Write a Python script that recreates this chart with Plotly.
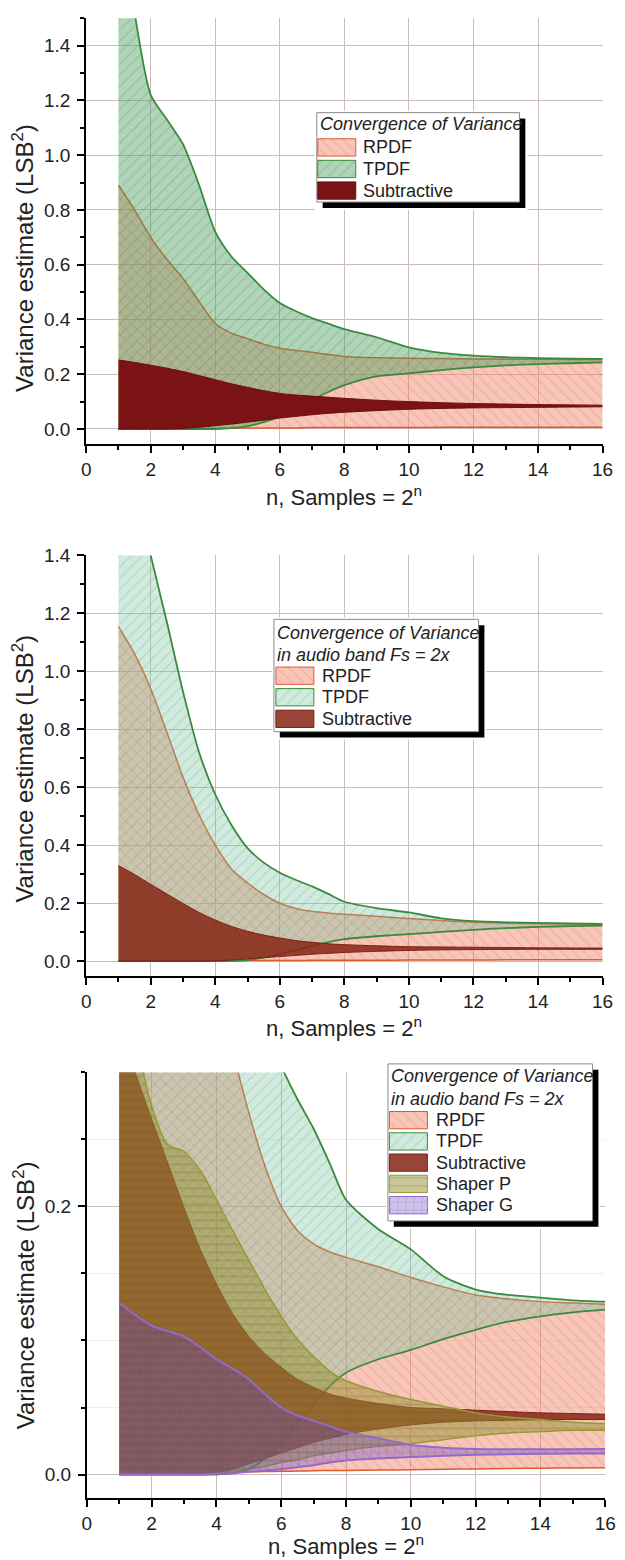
import plotly.graph_objects as go

FONT = "Liberation Sans, Arial, sans-serif"
W, H = 625, 1560

# sample exponent n (Samples = 2^n)
n_pts = [1, 1.5, 2, 2.5, 3, 3.5, 4, 4.5, 5, 5.5, 6, 6.5, 7, 7.5, 8,
         9, 10, 11, 12, 13, 14, 15, 16]

# ---- full band: variance envelopes (upper / lower) ----
p1_rpdf_hi = [0.89, 0.80, 0.70, 0.62, 0.55, 0.465, 0.385, 0.35, 0.33, 0.31, 0.295, 0.287,
              0.28, 0.272, 0.265, 0.26, 0.258, 0.257, 0.256, 0.255, 0.255, 0.254, 0.254]
p1_rpdf_lo = [0.0, 0.001, 0.001, 0.002, 0.002, 0.003, 0.003, 0.003, 0.004, 0.004, 0.004, 0.004,
              0.005, 0.005, 0.005, 0.005, 0.005, 0.006, 0.006, 0.006, 0.006, 0.006, 0.006]
p1_tpdf_hi = [1.95, 1.52, 1.22, 1.13, 1.04, 0.89, 0.72, 0.63, 0.57, 0.51, 0.46, 0.43,
              0.405, 0.385, 0.365, 0.335, 0.298, 0.278, 0.268, 0.262, 0.259, 0.257, 0.256]
p1_tpdf_lo = [0, 0, 0, 0, 0, 0, 0, 0.003, 0.01, 0.025, 0.045, 0.075,
              0.105, 0.135, 0.16, 0.192, 0.203, 0.215, 0.225, 0.232, 0.237, 0.24, 0.243]
p1_sub_hi = [0.252, 0.243, 0.233, 0.222, 0.21, 0.195, 0.18, 0.165, 0.152, 0.14, 0.13, 0.124,
             0.12, 0.116, 0.112, 0.105, 0.1, 0.096, 0.093, 0.091, 0.089, 0.088, 0.087]
p1_sub_lo = [0, 0, 0, 0, 0.002, 0.006, 0.012, 0.018, 0.025, 0.032, 0.04, 0.046,
             0.052, 0.057, 0.061, 0.067, 0.072, 0.075, 0.077, 0.078, 0.079, 0.08, 0.081]

# ---- audio band, Fs = 2x ----
ab_rpdf_hi = [1.155, 1.06, 0.94, 0.79, 0.635, 0.505, 0.40, 0.318, 0.27, 0.23, 0.2, 0.182,
              0.172, 0.166, 0.162, 0.155, 0.147, 0.14, 0.134, 0.131, 0.129, 0.128, 0.127]
ab_rpdf_lo = [0.0, 0.0003, 0.0005, 0.0007, 0.001, 0.0012, 0.0015, 0.0017, 0.002, 0.0022, 0.0024,
              0.0026, 0.0028, 0.003, 0.003, 0.0033, 0.0036, 0.004, 0.0042, 0.0045, 0.0047, 0.0049, 0.005]
ab_tpdf_hi = [1.9, 1.65, 1.40, 1.17, 0.93, 0.72, 0.575, 0.47, 0.39, 0.34, 0.305, 0.28,
              0.258, 0.232, 0.205, 0.183, 0.168, 0.148, 0.138, 0.134, 0.132, 0.13, 0.129]
ab_tpdf_lo = [0, 0, 0, 0, 0, 0, 0, 0.001, 0.004, 0.012, 0.024, 0.038,
              0.052, 0.066, 0.076, 0.086, 0.093, 0.101, 0.108, 0.114, 0.118, 0.121, 0.123]
ab_sub_hi = [0.33, 0.299, 0.265, 0.232, 0.199, 0.168, 0.142, 0.12, 0.103, 0.09, 0.08, 0.071,
             0.065, 0.06, 0.057, 0.053, 0.05, 0.049, 0.048, 0.047, 0.046, 0.0455, 0.045]
ab_sub_lo = [0, 0, 0, 0, 0, 0, 0.001, 0.004, 0.008, 0.012, 0.016, 0.02,
             0.024, 0.027, 0.03, 0.034, 0.037, 0.039, 0.040, 0.0405, 0.041, 0.041, 0.041]
ab_shp_hi = [0.45, 0.33, 0.275, 0.246, 0.241, 0.227, 0.205, 0.182, 0.16, 0.138, 0.118, 0.101,
             0.088, 0.077, 0.07, 0.062, 0.056, 0.051, 0.046, 0.043, 0.041, 0.039, 0.038]
ab_shp_lo = [0, 0, 0, 0, 0, 0, 0.001, 0.002, 0.004, 0.006, 0.009, 0.011,
             0.014, 0.016, 0.018, 0.021, 0.023, 0.026, 0.029, 0.031, 0.032, 0.033, 0.033]
ab_shg_hi = [0.128, 0.119, 0.111, 0.107, 0.103, 0.095, 0.086, 0.079, 0.071, 0.06, 0.05, 0.044,
             0.04, 0.036, 0.032, 0.027, 0.022, 0.02, 0.019, 0.0188, 0.0188, 0.0189, 0.019]
ab_shg_lo = [0, 0, 0, 0, 0, 0, 0.0005, 0.001, 0.002, 0.003, 0.004, 0.0055,
             0.007, 0.009, 0.0105, 0.012, 0.013, 0.014, 0.0148, 0.0152, 0.0155, 0.0156, 0.0157]

x_ticks = list(range(0, 17, 2))

# ---- styles ----
STY = {
    "RPDF": dict(line="#e2582c", fill="rgba(240,128,100,0.45)", shape="\\",
                 fg="rgba(215,95,70,0.55)", lw=1.5),
    "TPDF1": dict(line="#3a8a3e", fill="rgba(80,160,95,0.45)", shape="/",
                  fg="rgba(40,110,55,0.45)", lw=1.8),
    "TPDF2": dict(line="#3a8a3e", fill="rgba(120,195,160,0.35)", shape="/",
                  fg="rgba(50,130,80,0.40)", lw=1.8),
    "SUB1": dict(line="#6a0e10", fill="rgb(123,18,20)", shape="", fg=None, lw=1),
    "SUB2": dict(line="#7a2015", fill="rgba(135,38,22,0.86)", shape="", fg=None, lw=1),
    "SHP": dict(line="#9a9836", fill="rgba(150,145,50,0.50)", shape="-",
                fg="rgba(80,70,20,0.55)", lw=1.5),
    "SHG": dict(line="#9468cc", fill="rgba(100,70,200,0.33)", shape="+",
                fg="rgba(60,30,110,0.50)", lw=2),
}
SMOOTH = 0.7


def px_x(px):
    return px / W


def px_y(py):
    return 1 - py / H


fig = go.Figure()


def band(xa, ya, lo, hi, sty):
    s = STY[sty]
    fig.add_trace(go.Scatter(x=n_pts, y=lo, mode="lines", xaxis=xa, yaxis=ya,
                             line=dict(color=s["line"], width=s["lw"], shape="spline",
                                       smoothing=SMOOTH),
                             showlegend=False, hoverinfo="skip"))
    kw = dict(fill="tonexty", fillcolor=s["fill"])
    if s["shape"]:
        kw["fillpattern"] = dict(shape=s["shape"], fgcolor=s["fg"], bgcolor=s["fill"],
                                 size=8, solidity=0.14)
    fig.add_trace(go.Scatter(x=n_pts, y=hi, mode="lines", xaxis=xa, yaxis=ya,
                             line=dict(color=s["line"], width=s["lw"], shape="spline",
                                       smoothing=SMOOTH),
                             showlegend=False, hoverinfo="skip", **kw))


# panel 1
band("x", "y", p1_rpdf_lo, p1_rpdf_hi, "RPDF")
band("x", "y", p1_tpdf_lo, p1_tpdf_hi, "TPDF1")
band("x", "y", p1_sub_lo, p1_sub_hi, "SUB1")
# panel 2
band("x2", "y2", ab_rpdf_lo, ab_rpdf_hi, "RPDF")
band("x2", "y2", ab_tpdf_lo, ab_tpdf_hi, "TPDF2")
band("x2", "y2", ab_sub_lo, ab_sub_hi, "SUB2")
# panel 3
band("x3", "y3", ab_rpdf_lo, ab_rpdf_hi, "RPDF")
band("x3", "y3", ab_tpdf_lo, ab_tpdf_hi, "TPDF2")
band("x3", "y3", ab_sub_lo, ab_sub_hi, "SUB2")
band("x3", "y3", ab_shp_lo, ab_shp_hi, "SHP")
band("x3", "y3", ab_shg_lo, ab_shg_hi, "SHG")

GRID = "#cdbcbc"
TICKFONT = dict(family=FONT, size=19, color="#222")
panels = [
    # (x px left, x px right, y px top, y px bottom, y range, minor dtick, minor grid)
    (83.3, 613.3, 8.3, 436.7, [-0.0545, 1.5], 0.1, False),
    (83.3, 613.3, 548.9, 972.3, [-0.0514, 1.4], 0.1, False),
    (84.0, 616.0, 1069.3, 1497.3, [-0.0173, 0.3], 0.05, True),
]

axes = {}
for i, (xl, xr, yt, yb, yr, mdt, mgrid) in enumerate(panels):
    k = "" if i == 0 else str(i + 1)
    axes["xaxis" + k] = dict(
        domain=[px_x(xl), px_x(xr)], range=[0, 16], anchor="y" + k,
        tickvals=x_ticks, ticks="outside", ticklen=7, tickwidth=2, tickcolor="black",
        showline=True, linewidth=2, linecolor="black", showgrid=True, gridcolor=GRID,
        gridwidth=1, zeroline=False, tickfont=TICKFONT,
        minor=dict(dtick=1, tick0=0, ticks="outside", ticklen=4, tickwidth=2,
                   tickcolor="black", showgrid=False),
        fixedrange=True,
    )
    axes["yaxis" + k] = dict(
        domain=[px_y(yb), px_y(yt)], range=yr, anchor="x" + k,
        dtick=0.2, tick0=0, tickformat=".1f", ticks="outside", ticklen=7, tickwidth=2,
        tickcolor="black", showline=True, linewidth=2, linecolor="black", showgrid=True,
        gridcolor=GRID, gridwidth=1, zeroline=False, tickfont=TICKFONT,
        ticklabelstandoff=3,
        minor=dict(dtick=mdt, tick0=0, ticks="outside", ticklen=4, tickwidth=2,
                   tickcolor="black", showgrid=mgrid, gridcolor="#eeeeee", gridwidth=1),
        fixedrange=True,
    )

annotations = []
# axis titles
xt_y = [489, 1024, 1545]
yt_y = [250, 764, 1294]
for i, (xl, xr, yt, yb, yr, mdt, mgrid) in enumerate(panels):
    annotations.append(dict(text="n, Samples = 2<sup>n</sup>", xref="paper", yref="paper",
                            x=px_x((xl + xr) / 2), y=px_y(xt_y[i]), xanchor="center",
                            yanchor="middle", showarrow=False,
                            font=dict(family=FONT, size=22, color="#222")))
    annotations.append(dict(text="Variance estimate (LSB<sup>2</sup>)", xref="paper",
                            yref="paper", x=px_x(19), y=px_y(yt_y[i]), xanchor="center",
                            yanchor="middle", textangle=-90, showarrow=False,
                            font=dict(family=FONT, size=24, color="#222")))

# ---- legend boxes (drawn in their own pixel-unit subplots) ----
legends = [
    dict(left=320, top=103.3, w=208, h=90, titles=["Convergence of Variance"],
         title_y=[11.7], rows=[35, 56.7, 78.4],
         items=[("RPDF", "RPDF"), ("TPDF", "TPDF1"), ("Subtractive", "SUB1")],
         sw_x=1, txt_x=45),
    dict(left=276, top=613.3, w=210, h=113,
         titles=["Convergence of Variance", "in audio band Fs = 2x"],
         title_y=[13.4, 36], rows=[56.7, 78.4, 100.1],
         items=[("RPDF", "RPDF"), ("TPDF", "TPDF2"), ("Subtractive", "SUB2")],
         sw_x=2, txt_x=47),
    dict(left=393, top=1060.7, w=210, h=158,
         titles=["Convergence of Variance", "in audio band Fs = 2x"],
         title_y=[12.6, 35.3], rows=[56.6, 78, 99.4, 120.8, 142.2],
         items=[("RPDF", "RPDF"), ("TPDF", "TPDF2"), ("Subtractive", "SUB2"),
                ("Shaper P", "SHP"), ("Shaper G", "SHG")],
         sw_x=1.5, txt_x=47),
]

SH = 6  # shadow offset, px
for j, L in enumerate(legends):
    k = str(4 + j)
    xa, ya = "x" + k, "y" + k
    axes["xaxis" + k] = dict(domain=[px_x(L["left"] - 2), px_x(L["left"] + L["w"] + SH + 2)],
                             range=[-2, L["w"] + SH + 2], visible=False, fixedrange=True,
                             anchor=ya)
    axes["yaxis" + k] = dict(domain=[px_y(L["top"] + L["h"] + SH + 2), px_y(L["top"] - 2)],
                             range=[L["h"] + SH + 2, -2], visible=False, fixedrange=True,
                             anchor=xa)
    w, h = L["w"], L["h"]
    # shadow
    fig.add_trace(go.Scatter(x=[SH, w + SH, w + SH, SH, SH], y=[SH, SH, h + SH, h + SH, SH],
                             mode="lines", fill="toself", fillcolor="black",
                             line=dict(width=0, color="black"), xaxis=xa, yaxis=ya,
                             showlegend=False, hoverinfo="skip"))
    # frame
    fig.add_trace(go.Scatter(x=[0, w, w, 0, 0], y=[0, 0, h, h, 0], mode="lines",
                             fill="toself", fillcolor="white",
                             line=dict(width=1, color="#8a8a8a"), xaxis=xa, yaxis=ya,
                             showlegend=False, hoverinfo="skip"))
    for t, ty in zip(L["titles"], L["title_y"]):
        annotations.append(dict(text="<i>" + t + "</i>", xref=xa, yref=ya, x=1.5, y=ty,
                                xanchor="left", yanchor="middle", showarrow=False,
                                font=dict(family=FONT, size=18, color="#222")))
    for (label, sty), ry in zip(L["items"], L["rows"]):
        s = STY[sty]
        x0, x1 = L["sw_x"], L["sw_x"] + 39
        y0, y1 = ry - 8.7, ry + 8.7
        kw = dict(fill="toself", fillcolor=s["fill"])
        if s["shape"]:
            kw["fillpattern"] = dict(shape=s["shape"], fgcolor=s["fg"], bgcolor=s["fill"],
                                     size=8, solidity=0.14)
        fig.add_trace(go.Scatter(x=[x0, x1, x1, x0, x0], y=[y0, y0, y1, y1, y0],
                                 mode="lines", line=dict(width=1, color=s["line"]),
                                 xaxis=xa, yaxis=ya, showlegend=False, hoverinfo="skip", **kw))
        annotations.append(dict(text=label, xref=xa, yref=ya, x=L["txt_x"], y=ry,
                                xanchor="left", yanchor="middle", showarrow=False,
                                font=dict(family=FONT, size=18, color="#222")))

fig.update_layout(
    width=W, height=H, autosize=False,
    margin=dict(l=0, r=0, t=0, b=0),
    paper_bgcolor="white", plot_bgcolor="white",
    showlegend=False,
    annotations=annotations,
    font=dict(family=FONT),
    **axes,
)

fig.write_html("out.html")
